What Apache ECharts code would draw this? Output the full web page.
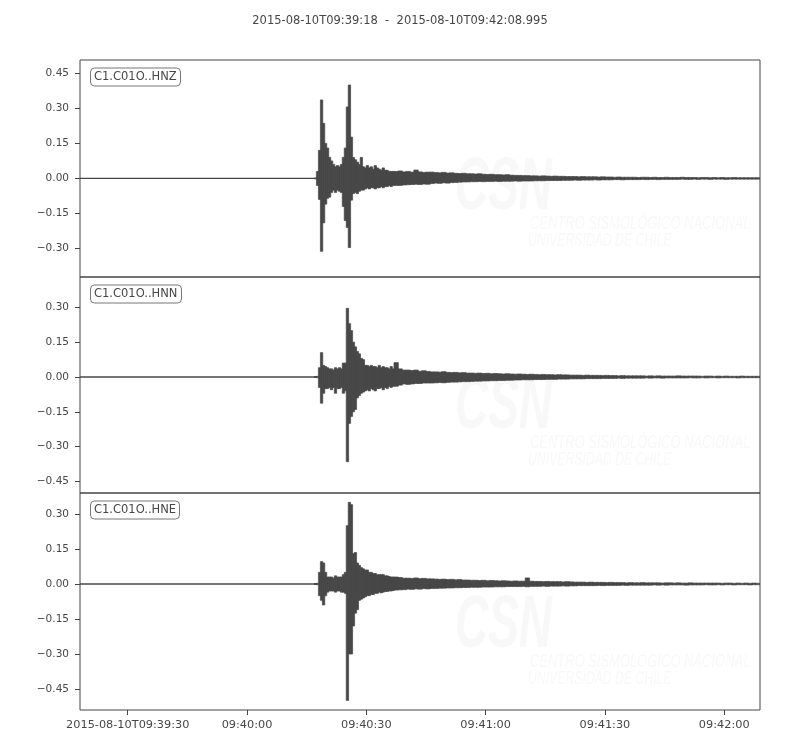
<!DOCTYPE html>
<html><head><meta charset="utf-8">
<script src="https://cdn.jsdelivr.net/npm/echarts@6/dist/echarts.min.js"></script>
<style>html,body{margin:0;padding:0;background:#fff}#chart{width:800px;height:750px}</style>
</head><body><div id="chart"></div><script>
// time in seconds after 2015-08-10T09:39:00
const titleText = '2015-08-10T09:39:18  -  2015-08-10T09:42:08.995';
const xMin = 18, xMax = 188.995;
const xTickValues = [30, 60, 90, 120, 150, 180];
const xTickLabels = ['2015-08-10T09:39:30', '09:40:00', '09:40:30', '09:41:00', '09:41:30', '09:42:00'];
const traceNames = ['C1.C01O..HNZ', 'C1.C01O..HNN', 'C1.C01O..HNE'];
const yRanges = [[-0.422, 0.507], [-0.500, 0.431], [-0.540, 0.390]];
const yTicksHNZ = [0.45, 0.30, 0.15, 0.00, -0.15, -0.30];
const yTicksHNN = [0.30, 0.15, 0.00, -0.15, -0.30, -0.45];
const yTicksHNE = [0.30, 0.15, 0.00, -0.15, -0.30, -0.45];
// quiet part before the onset (value 0)
const quietValue = 0;
// envelope (max / min): 0.5 s bins from earlyStart, then 1 s bins from lateStart
const earlyStart = 77, earlyStep = 0.5;
const lateStart = 97, lateStep = 1;

const hnzEarlyUpper = [0,0.03,0.12,0.336,0.236,0.15,0.13,0.09,0.075,0.06,
0.05,0.055,0.05,0.06,0.09,0.13,0.306,0.40,0.177,0.09,
0.08,0.07,0.06,0.09,0.05,0.045,0.055,0.045,0.05,0.04,
0.055,0.045,0.04,0.035,0.045,0.035,0.035,0.03,0.03,0.03];
const hnzEarlyLower = [0,-0.03,-0.09,-0.312,-0.19,-0.11,-0.085,-0.08,-0.06,-0.05,
-0.06,-0.05,-0.055,-0.06,-0.12,-0.18,-0.21,-0.296,-0.093,-0.065,
-0.06,-0.065,-0.055,-0.05,-0.05,-0.045,-0.04,-0.045,-0.04,-0.04,
-0.045,-0.04,-0.04,-0.035,-0.04,-0.035,-0.035,-0.03,-0.035,-0.03];
const hnzLateUpper = [0.03,0.032,0.028,0.03,0.027,0.036,0.028,0.026,0.027,0.027,
0.025,0.024,0.026,0.023,0.024,0.022,0.021,0.022,0.02,0.02,
0.019,0.02,0.018,0.017,0.018,0.016,0.016,0.015,0.016,0.014,
0.013,0.013,0.012,0.012,0.011,0.011,0.01,0.011,0.01,0.009,
0.01,0.009,0.009,0.008,0.008,0.008,0.007,0.008,0.007,0.007,
0.007,0.006,0.007,0.006,0.006,0.005,0.006,0.005,0.005,0.005,
0.005,0.004,0.005,0.005,0.004,0.005,0.004,0.004,0.005,0.004,
0.004,0.004,0.005,0.004,0.004,0.004,0.003,0.004,0.004,0.003,
0.004,0.003,0.004,0.003,0.003,0.004,0.003,0.003,0.003,0.003,
0.003,0.003];
const hnzLateLower = [-0.03,-0.03,-0.028,-0.027,-0.026,-0.025,-0.026,-0.024,-0.025,-0.022,
-0.02,-0.021,-0.019,-0.02,-0.018,-0.017,-0.016,-0.015,-0.015,-0.014,
-0.014,-0.013,-0.014,-0.013,-0.013,-0.012,-0.013,-0.012,-0.012,-0.012,
-0.011,-0.012,-0.011,-0.011,-0.011,-0.01,-0.01,-0.01,-0.009,-0.009,
-0.009,-0.009,-0.008,-0.008,-0.008,-0.007,-0.008,-0.007,-0.007,-0.007,
-0.006,-0.007,-0.006,-0.006,-0.006,-0.005,-0.005,-0.006,-0.005,-0.005,
-0.005,-0.005,-0.004,-0.005,-0.004,-0.004,-0.005,-0.004,-0.004,-0.004,
-0.004,-0.004,-0.003,-0.004,-0.004,-0.003,-0.004,-0.003,-0.003,-0.004,
-0.003,-0.003,-0.003,-0.004,-0.003,-0.003,-0.003,-0.003,-0.003,-0.003,
-0.003,-0.003];

const hnnEarlyUpper = [0,0.003,0.04,0.105,0.05,0.045,0.04,0.035,0.035,0.03,
0.04,0.035,0.04,0.035,0.06,0.06,0.296,0.23,0.2,0.15,
0.13,0.11,0.10,0.08,0.075,0.05,0.05,0.045,0.05,0.045,
0.045,0.04,0.05,0.04,0.045,0.04,0.04,0.035,0.045,0.035];
const hnnEarlyLower = [0,-0.003,-0.045,-0.113,-0.07,-0.05,-0.05,-0.045,-0.055,-0.045,
-0.07,-0.05,-0.05,-0.045,-0.07,-0.06,-0.365,-0.2,-0.17,-0.15,
-0.14,-0.09,-0.08,-0.07,-0.065,-0.06,-0.055,-0.06,-0.05,-0.055,
-0.06,-0.05,-0.05,-0.045,-0.055,-0.045,-0.05,-0.04,-0.045,-0.04];
const hnnLateUpper = [0.062,0.035,0.03,0.03,0.028,0.03,0.025,0.027,0.024,0.022,
0.022,0.021,0.023,0.02,0.019,0.02,0.018,0.019,0.017,0.017,
0.016,0.017,0.015,0.016,0.014,0.015,0.014,0.013,0.014,0.013,
0.012,0.013,0.012,0.011,0.012,0.011,0.01,0.011,0.01,0.01,
0.009,0.01,0.009,0.009,0.008,0.008,0.008,0.007,0.008,0.007,
0.007,0.007,0.006,0.007,0.006,0.006,0.005,0.006,0.005,0.005,
0.005,0.005,0.005,0.004,0.005,0.004,0.005,0.004,0.004,0.004,
0.004,0.005,0.004,0.004,0.004,0.004,0.004,0.003,0.004,0.004,
0.003,0.004,0.003,0.004,0.003,0.003,0.003,0.004,0.003,0.003,
0.003,0.003];
const hnnLateLower = [-0.04,-0.035,-0.03,-0.032,-0.03,-0.028,-0.028,-0.026,-0.026,-0.026,
-0.025,-0.024,-0.025,-0.023,-0.022,-0.022,-0.021,-0.02,-0.02,-0.019,
-0.018,-0.018,-0.017,-0.017,-0.016,-0.016,-0.015,-0.015,-0.014,-0.014,
-0.013,-0.013,-0.012,-0.012,-0.012,-0.011,-0.011,-0.011,-0.01,-0.01,
-0.01,-0.009,-0.009,-0.009,-0.008,-0.008,-0.008,-0.008,-0.007,-0.007,
-0.007,-0.007,-0.006,-0.006,-0.006,-0.006,-0.005,-0.006,-0.005,-0.005,
-0.005,-0.005,-0.005,-0.004,-0.005,-0.004,-0.004,-0.005,-0.004,-0.004,
-0.004,-0.004,-0.004,-0.004,-0.003,-0.004,-0.004,-0.003,-0.004,-0.003,
-0.003,-0.004,-0.003,-0.003,-0.003,-0.003,-0.004,-0.003,-0.003,-0.003,
-0.003,-0.003];

const hneEarlyUpper = [0,0.003,0.05,0.096,0.09,0.05,0.03,0.03,0.03,0.025,
0.035,0.03,0.03,0.03,0.04,0.05,0.25,0.35,0.34,0.13,
0.135,0.09,0.08,0.07,0.065,0.06,0.06,0.05,0.05,0.045,
0.045,0.04,0.04,0.04,0.04,0.035,0.035,0.032,0.03,0.03];
const hneEarlyLower = [0,-0.003,-0.05,-0.07,-0.09,-0.05,-0.035,-0.03,-0.03,-0.03,
-0.035,-0.03,-0.03,-0.035,-0.035,-0.04,-0.499,-0.30,-0.30,-0.18,
-0.125,-0.11,-0.07,-0.065,-0.06,-0.055,-0.05,-0.05,-0.045,-0.045,
-0.04,-0.04,-0.035,-0.038,-0.035,-0.032,-0.032,-0.03,-0.03,-0.028];
const hneLateUpper = [0.03,0.028,0.025,0.025,0.024,0.026,0.023,0.024,0.022,0.022,
0.021,0.02,0.021,0.019,0.02,0.018,0.019,0.017,0.017,0.016,
0.016,0.015,0.016,0.014,0.015,0.014,0.013,0.014,0.013,0.012,
0.013,0.012,0.012,0.026,0.012,0.011,0.011,0.01,0.011,0.01,
0.01,0.01,0.009,0.01,0.009,0.008,0.008,0.008,0.007,0.008,
0.007,0.007,0.007,0.006,0.007,0.006,0.006,0.006,0.005,0.006,
0.005,0.005,0.006,0.005,0.005,0.005,0.005,0.004,0.005,0.005,
0.004,0.005,0.004,0.004,0.005,0.004,0.004,0.004,0.004,0.004,
0.004,0.004,0.003,0.004,0.004,0.003,0.004,0.003,0.004,0.003,
0.004,0.003];
const hneLateLower = [-0.026,-0.025,-0.024,-0.022,-0.023,-0.021,-0.022,-0.02,-0.021,-0.019,
-0.019,-0.018,-0.018,-0.017,-0.017,-0.016,-0.016,-0.015,-0.015,-0.014,
-0.014,-0.014,-0.013,-0.013,-0.013,-0.012,-0.012,-0.012,-0.011,-0.011,
-0.011,-0.011,-0.01,-0.012,-0.01,-0.01,-0.01,-0.009,-0.01,-0.009,
-0.009,-0.009,-0.008,-0.009,-0.008,-0.008,-0.007,-0.007,-0.007,-0.007,
-0.007,-0.006,-0.007,-0.006,-0.006,-0.006,-0.006,-0.005,-0.006,-0.005,
-0.005,-0.005,-0.005,-0.005,-0.005,-0.004,-0.005,-0.004,-0.005,-0.004,
-0.004,-0.004,-0.004,-0.005,-0.004,-0.004,-0.004,-0.004,-0.003,-0.004,
-0.004,-0.003,-0.004,-0.003,-0.003,-0.004,-0.003,-0.003,-0.003,-0.004,
-0.003,-0.003];

const traces = [
  [hnzEarlyUpper, hnzEarlyLower, hnzLateUpper, hnzLateLower],
  [hnnEarlyUpper, hnnEarlyLower, hnnLateUpper, hnnLateLower],
  [hneEarlyUpper, hneEarlyLower, hneLateUpper, hneLateLower]
];
const yTicks = [yTicksHNZ, yTicksHNN, yTicksHNE];

const FONT = '"DejaVu Sans", sans-serif';
const INK = '#474747';
const gridTops = [60, 277, 493];
const gridHeights = [217, 216, 217];

function binTable(eu, el, lu, ll) {
  const rows = [];
  eu.forEach((u, i) => rows.push([earlyStart + i * earlyStep, u, el[i], earlyStep]));
  lu.forEach((u, i) => rows.push([lateStart + i * lateStep, u, ll[i], lateStep]));
  return rows;
}
function fmtY(v) {
  const s = Math.abs(v).toFixed(2);
  return (v < -1e-9 ? '\u2212' : '') + s;
}
function renderBin(params, api) {
  const t = api.value(0);
  const pTop = api.coord([t, api.value(1)]);
  const pBot = api.coord([t + api.value(3), api.value(2)]);
  const h = Math.max(pBot[1] - pTop[1], 1.0);
  const cy = (pTop[1] + pBot[1]) / 2;
  return {
    type: 'rect',
    shape: {x: pTop[0] - 0.2, y: cy - h / 2, width: pBot[0] - pTop[0] + 0.4, height: h},
    style: {fill: INK, stroke: INK, lineWidth: 0.7}
  };
}

const grids = [], xAxes = [], yAxes = [], series = [], titles = [], graphics = [];
titles.push({
  text: titleText, left: 'center', top: 15, padding: 0,
  textStyle: {fontFamily: FONT, fontSize: 11.5, fontWeight: 'normal', color: INK}
});
for (let i = 0; i < 3; i++) {
  grids.push({left: 80, right: 40, top: gridTops[i], height: gridHeights[i], show: true,
    borderColor: '#444', borderWidth: 1, backgroundColor: 'transparent', containLabel: false});
  const last = i === 2;
  xAxes.push({
    type: 'value', gridIndex: i, min: xMin, max: xMax,
    axisLine: {show: false, onZero: false}, splitLine: {show: false},
    axisTick: {show: last, customValues: xTickValues, length: 5, lineStyle: {color: '#444'}},
    axisLabel: {show: last, customValues: xTickValues, margin: 10, fontFamily: FONT, fontSize: 11.3, color: INK,
      formatter: v => xTickLabels[xTickValues.indexOf(Math.round(v))] || ''}
  });
  yAxes.push({
    type: 'value', gridIndex: i, min: yRanges[i][0], max: yRanges[i][1],
    axisLine: {show: false, onZero: false}, splitLine: {show: false},
    axisTick: {show: true, customValues: yTicks[i], length: 5, lineStyle: {color: '#444'}},
    axisLabel: {show: true, customValues: yTicks[i], margin: 11, fontFamily: FONT, fontSize: 10.5, color: INK,
      formatter: fmtY}
  });
  series.push({
    type: 'line', name: traceNames[i] + ' quiet', xAxisIndex: i, yAxisIndex: i,
    data: [[xMin, quietValue], [earlyStart + earlyStep, quietValue]], showSymbol: false, symbol: 'none',
    lineStyle: {color: INK, width: 1.3}, animation: false, z: 5, silent: true
  });
  series.push({
    type: 'custom', name: traceNames[i], xAxisIndex: i, yAxisIndex: i,
    data: binTable(...traces[i]), renderItem: renderBin,
    encode: {x: 0, y: [1, 2]}, animation: false, z: 5, silent: true, clip: true
  });
  titles.push({
    text: traceNames[i], left: 90, top: gridTops[i] + 7.5, padding: [4, 4, 3, 4],
    borderColor: '#777', borderWidth: 1, borderRadius: 4, backgroundColor: '#fff',
    textStyle: {fontFamily: FONT, fontSize: 11.5, fontWeight: 'normal', color: INK}
  });
  const off = [0, 219, 438][i];
  graphics.push({type: 'text', x: 455, y: 152 + off, scaleX: 0.62, z: 0, silent: true,
    style: {text: 'CSN', font: 'italic bold 74px "Liberation Sans"', fill: '#f8f8f8'}});
  graphics.push({type: 'text', x: 530, y: 215 + off, scaleX: 0.72, z: 0, silent: true,
    style: {text: 'CENTRO SISMOL\u00d3GICO NACIONAL', font: 'italic 18px "Liberation Sans"', fill: '#f8f8f8'}});
  graphics.push({type: 'text', x: 528, y: 232 + off, scaleX: 0.68, z: 0, silent: true,
    style: {text: 'UNIVERSIDAD DE CHILE', font: 'italic 18px "Liberation Sans"', fill: '#f8f8f8'}});
}

const chart = echarts.init(document.getElementById('chart'), null, {renderer: 'canvas'});
chart.setOption({
  backgroundColor: '#ffffff',
  animation: false,
  title: titles,
  grid: grids,
  xAxis: xAxes,
  yAxis: yAxes,
  series: series,
  graphic: graphics
});
</script></body></html>
